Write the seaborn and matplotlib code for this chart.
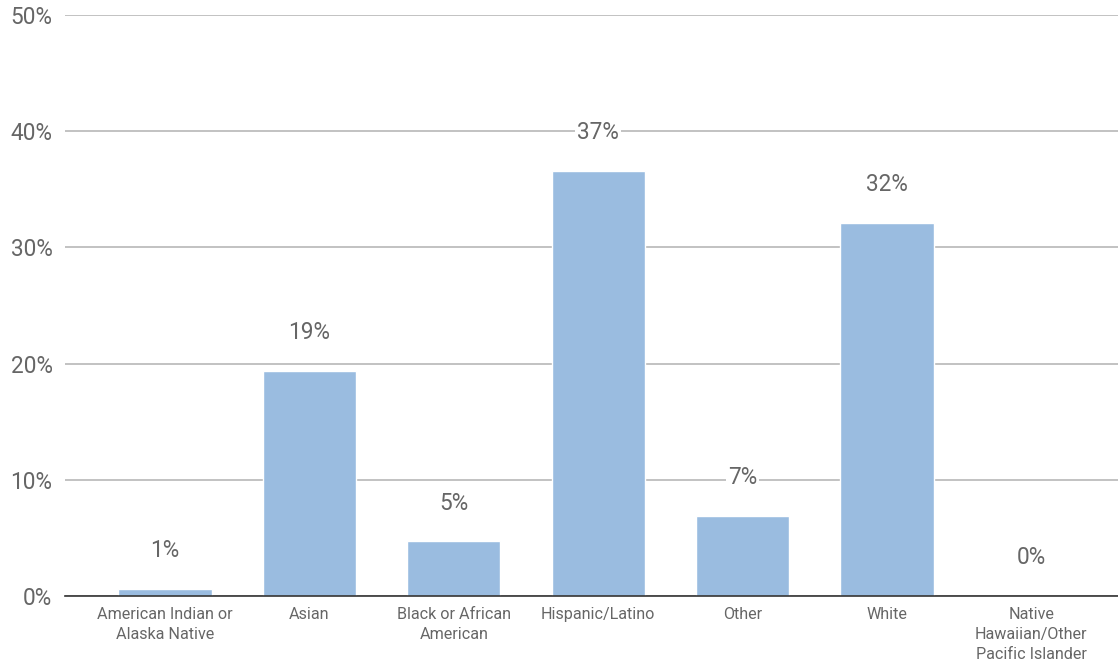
import pandas as pd
import matplotlib.pyplot as plt
import seaborn as sns

# Data
categories = ["American Indian or\nAlaska Native", "Asian", "Black or African\nAmerican",
              "Hispanic/Latino", "Other", "White", "Native\nHawaiian/Other\nPacific Islander"]
shares = [0.6, 19.4, 4.7, 36.6, 6.9, 32.1, 0.0]
share_labels = ["1%", "19%", "5%", "37%", "7%", "32%", "0%"]
y_ticks = [0, 10, 20, 30, 40, 50]

df = pd.DataFrame({"category": categories, "share": shares})

sns.set_style("white")
plt.rcParams["font.family"] = ["Roboto", "DejaVu Sans"]

fig = plt.figure(figsize=(11.18, 6.62), dpi=100)
ax = fig.add_axes([65 / 1118, 66 / 662, 1053 / 1118, 581 / 662])

sns.barplot(data=df, x="category", y="share", color="#9abce0", width=0.645,
            saturation=1, ax=ax, zorder=2)

ax.set_ylim(0, 50)
ax.set_xlim(-0.693, 6.60)
ax.set_yticks(y_ticks)
ax.set_yticklabels([f"{t}%" for t in y_ticks], fontsize=16.3, color="#666666")
ax.tick_params(axis="y", length=0, pad=9)
ax.tick_params(axis="x", length=0, pad=8, labelsize=11.6, labelcolor="#666666")
for t in ax.get_xticklabels():
    t.set_linespacing(1.4)
ax.yaxis.grid(True, color="#b7b7b7", linewidth=1.2, zorder=0)
ax.set_axisbelow(True)
for s in ["top", "right", "left"]:
    ax.spines[s].set_visible(False)
ax.spines["bottom"].set_color("#333333")
ax.spines["bottom"].set_linewidth(1.2)
ax.spines["bottom"].set_zorder(3)
ax.set_xlabel("")
ax.set_ylabel("")

# value labels above each bar
for i, (v, lab) in enumerate(zip(shares, share_labels)):
    ax.annotate(lab, (i, v), xytext=(0, 27.5), textcoords="offset points",
                ha="center", va="center", fontsize=16.3, color="#666666",
                bbox=dict(boxstyle="square,pad=0.1", fc="white", ec="none"), zorder=4)

fig.savefig("out.png", dpi=100)
